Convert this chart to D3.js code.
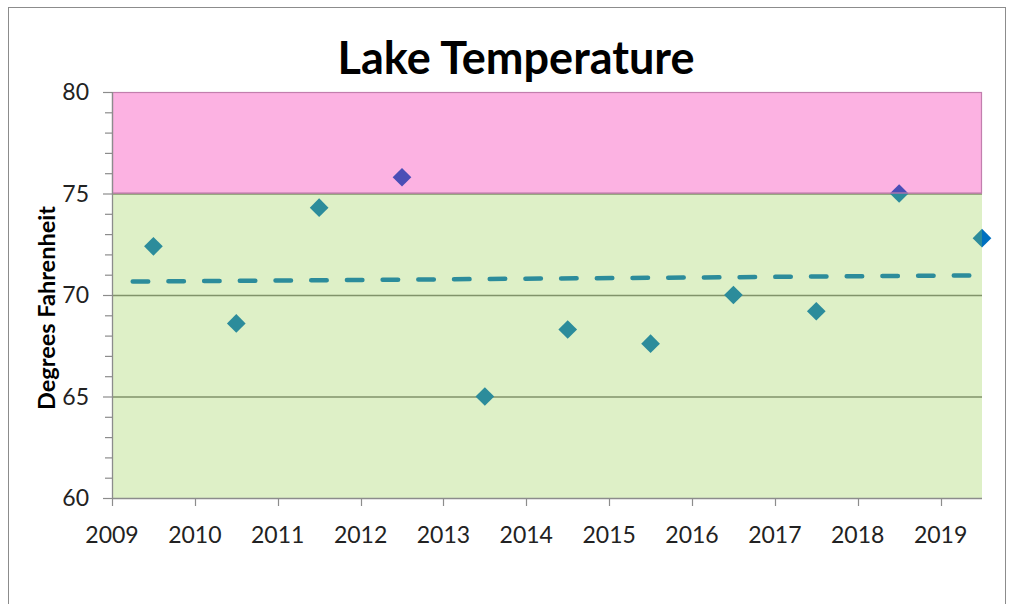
<!DOCTYPE html>
<html>
<head>
<meta charset="utf-8">
<script src="https://cdn.jsdelivr.net/npm/d3@7"></script>
<style>
  body { margin: 0; background: #fff; }
  text { font-family: Lato, "Open Sans", sans-serif; fill: #222; }
</style>
</head>
<body>
<div id="chart"></div>
<script>
// data
var years  = [2009.5, 2010.5, 2011.5, 2012.5, 2013.5, 2014.5, 2015.5, 2016.5, 2017.5, 2018.5, 2019.5];
var temps  = [72.4, 68.6, 74.3, 75.8, 65.0, 68.3, 67.6, 70.0, 69.2, 75.0, 72.8];
var xTicks = [2009, 2010, 2011, 2012, 2013, 2014, 2015, 2016, 2017, 2018, 2019];
var yTicks = [60, 65, 70, 75, 80];
var bandLimits = [60, 75, 80];   // ok range, then too warm

var W = 1013, H = 604;
var plot = {left: 112, right: 982, top: 92, bottom: 498};

var svg = d3.select("#chart").append("svg")
    .attr("width", W).attr("height", H);

// outer frame
svg.append("rect")
    .attr("x", 8.5).attr("y", 7.5)
    .attr("width", 997).attr("height", 640)
    .attr("fill", "#fff").attr("stroke", "#8c8c8c");

var x = d3.scaleLinear().domain([2009, 2019.5]).range([plot.left, plot.right]);
var y = d3.scaleLinear().domain([60, 80]).range([plot.bottom, plot.top]);

// gridlines (sit under the translucent bands)
svg.append("g").selectAll("line")
    .data(yTicks.filter(function(d){ return d > 60 && d < 80; }))
    .enter().append("line")
    .attr("x1", plot.left).attr("x2", plot.right)
    .attr("y1", function(d){ return y(d) + 0.5; })
    .attr("y2", function(d){ return y(d) + 0.5; })
    .attr("stroke", "#7a7a7a").attr("stroke-width", 1.3);

// linear trendline from the points
var mx = d3.mean(years), my = d3.mean(temps);
var sxy = d3.sum(years, function(d, i){ return (d - mx) * (temps[i] - my); });
var sxx = d3.sum(years, function(d){ return (d - mx) * (d - mx); });
var slope = sxy / sxx, icpt = my - slope * mx;
var trendX = [2009.25, 2019.5];

svg.append("line")
    .attr("x1", x(trendX[0])).attr("y1", y(icpt + slope * trendX[0]))
    .attr("x2", x(trendX[1])).attr("y2", y(icpt + slope * trendX[1]))
    .attr("stroke", "#0070c0").attr("stroke-width", 4.5)
    .attr("stroke-linecap", "round")
    .attr("stroke-dasharray", "15.5 20.2");

// markers
var diamond = d3.symbol().type(d3.symbolSquare).size(175);
svg.append("g").selectAll("path")
    .data(years)
    .enter().append("path")
    .attr("d", diamond)
    .attr("transform", function(d, i){ return "translate(" + x(d) + "," + y(temps[i]) + ") rotate(45)"; })
    .attr("fill", "#0070c0");

// translucent bands drawn over the markers
var bandFill = ["#91cd47", "#f5009e"];
svg.append("g").selectAll("rect")
    .data(d3.pairs(bandLimits))
    .enter().append("rect")
    .attr("x", plot.left)
    .attr("width", plot.right - plot.left)
    .attr("y", function(d){ return y(d[1]); })
    .attr("height", function(d){ return y(d[0]) - y(d[1]); })
    .attr("fill", function(d, i){ return bandFill[i]; })
    .attr("fill-opacity", 0.3);

// darker edge of the warm band
svg.append("rect")
    .attr("x", plot.left + 0.5).attr("y", y(80) + 0.5)
    .attr("width", plot.right - plot.left - 1)
    .attr("height", y(75) - y(80) - 1)
    .attr("fill", "none").attr("stroke", "#c27fae").attr("stroke-width", 1.2);

// y axis
var yAxis = svg.append("g");
yAxis.append("line")
    .attr("x1", plot.left + 0.5).attr("x2", plot.left + 0.5)
    .attr("y1", plot.top).attr("y2", plot.bottom + 0.5)
    .attr("stroke", "#8c8c8c").attr("stroke-width", 1.3);
yAxis.selectAll(".minor")
    .data(d3.range(60, 81))
    .enter().append("line")
    .attr("x1", function(d){ return d % 5 == 0 ? plot.left - 9 : plot.left - 7; })
    .attr("x2", plot.left)
    .attr("y1", function(d){ return y(d) + 0.5; })
    .attr("y2", function(d){ return y(d) + 0.5; })
    .attr("stroke", "#8c8c8c").attr("stroke-width", 1.2);
yAxis.selectAll("text")
    .data(yTicks)
    .enter().append("text")
    .attr("x", 89).attr("y", function(d){ return y(d); })
    .attr("dy", "0.35em")
    .attr("text-anchor", "end")
    .style("font-size", "23px")
    .text(function(d){ return d; });

// x axis
var xAxis = svg.append("g");
xAxis.append("line")
    .attr("x1", plot.left).attr("x2", plot.right)
    .attr("y1", plot.bottom + 0.5).attr("y2", plot.bottom + 0.5)
    .attr("stroke", "#8c8c8c").attr("stroke-width", 1.3);
xAxis.selectAll(".tick")
    .data(xTicks)
    .enter().append("line")
    .attr("x1", function(d){ return Math.round(x(d)) + 0.5; })
    .attr("x2", function(d){ return Math.round(x(d)) + 0.5; })
    .attr("y1", plot.bottom).attr("y2", plot.bottom + 8)
    .attr("stroke", "#8c8c8c").attr("stroke-width", 1.2);
xAxis.selectAll("text")
    .data(xTicks)
    .enter().append("text")
    .attr("x", function(d){ return x(d); })
    .attr("y", 543)
    .attr("text-anchor", "middle")
    .style("font-size", "23px")
    .text(function(d){ return d; });

// titles
svg.append("text")
    .attr("x", 516).attr("y", 74)
    .attr("text-anchor", "middle")
    .style("font-size", "45px").style("font-weight", "bold")
    .style("fill", "#000")
    .text("Lake Temperature");

svg.append("text")
    .attr("transform", "translate(55,308) rotate(-90)")
    .attr("text-anchor", "middle")
    .style("font-size", "23.5px").style("font-weight", "bold")
    .style("fill", "#000")
    .text("Degrees Fahrenheit");
</script>
</body>
</html>
